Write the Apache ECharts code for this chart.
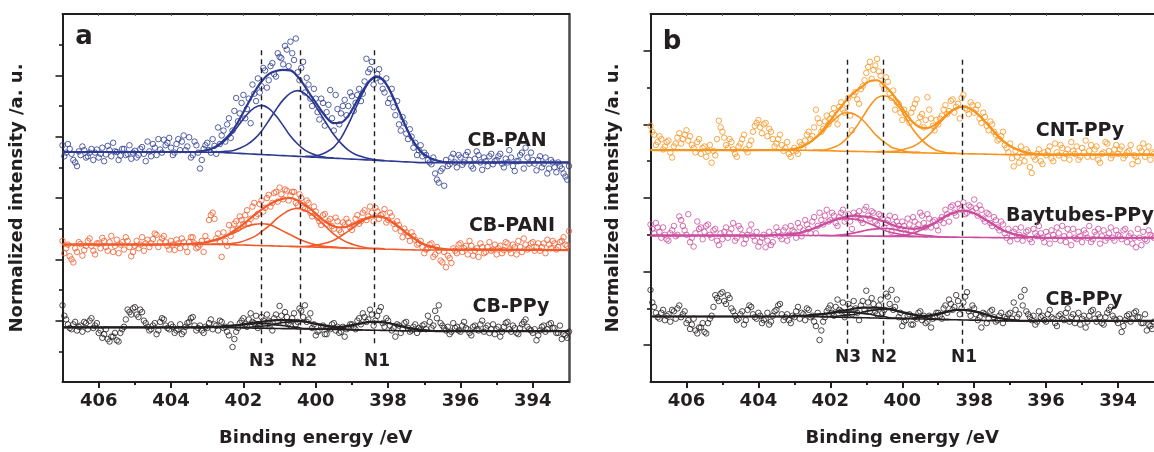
<!DOCTYPE html>
<html><head><meta charset="utf-8">
<script src="https://cdn.jsdelivr.net/npm/echarts@6.0.0/dist/echarts.min.js"></script>
<style>html,body{margin:0;padding:0;background:#fff}#c{width:1154px;height:452px}</style>
</head><body><div id="c"></div>
<script>
// ---------- axis ticks ----------
const X_MAJOR = [394, 396, 398, 400, 402, 404, 406];
const X_MINOR = [395, 397, 399, 401, 403, 405];
const YA_MAJOR = [1, 2, 3, 4, 5];
const YA_MINOR = [0.5, 1.5, 2.5, 3.5, 4.5, 5.5];
const YB_MAJOR = [0.5, 1.5, 2.5, 3.5, 4.5];
const YB_MINOR = [1, 2, 3, 4];

// ---------- peak positions (dashed lines) ----------
const PEAK_NAMES = ['N3', 'N2', 'N1'];
const DASH_A = [401.5, 400.42, 398.39];
const DASH_B = [401.54, 400.52, 398.33];

// ---------- measured points (binding energy, eV) ----------
const SCATTER_X = [
407.0,406.9,406.8,406.7,406.6,406.5,406.4,406.3,406.2,406.1,
406.0,405.9,405.8,405.7,405.6,405.5,405.4,405.3,405.2,405.1,
405.0,404.9,404.8,404.7,404.6,404.5,404.4,404.3,404.2,404.1,
404.0,403.9,403.8,403.7,403.6,403.5,403.4,403.3,403.2,403.1,
403.0,402.9,402.8,402.7,402.6,402.5,402.4,402.3,402.2,402.1,
402.0,401.9,401.8,401.7,401.6,401.5,401.4,401.3,401.2,401.1,
401.0,400.9,400.8,400.7,400.6,400.5,400.4,400.3,400.2,400.1,
400.0,399.9,399.8,399.7,399.6,399.5,399.4,399.3,399.2,399.1,
399.0,398.9,398.8,398.7,398.6,398.5,398.4,398.3,398.2,398.1,
398.0,397.9,397.8,397.7,397.6,397.5,397.4,397.3,397.2,397.1,
397.0,396.9,396.8,396.7,396.6,396.5,396.4,396.3,396.2,396.1,
396.0,395.9,395.8,395.7,395.6,395.5,395.4,395.3,395.2,395.1,
395.0,394.9,394.8,394.7,394.6,394.5,394.4,394.3,394.2,394.1,
394.0,393.9,393.8,393.7,393.6,393.5,393.4,393.3,393.2,393.1,
393.0];
const SCATTER_X2 = [
406.95,406.85,406.75,406.65,406.55,406.45,406.35,406.25,406.15,406.05,
405.95,405.85,405.75,405.65,405.55,405.45,405.35,405.25,405.15,405.05,
404.95,404.85,404.75,404.65,404.55,404.45,404.35,404.25,404.15,404.05,
403.95,403.85,403.75,403.65,403.55,403.45,403.35,403.25,403.15,403.05,
402.95,402.85,402.75,402.65,402.55,402.45,402.35,402.25,402.15,402.05,
401.95,401.85,401.75,401.65,401.55,401.45,401.35,401.25,401.15,401.05,
400.95,400.85,400.75,400.65,400.55,400.45,400.35,400.25,400.15,400.05,
399.95,399.85,399.75,399.65,399.55,399.45,399.35,399.25,399.15,399.05,
398.95,398.85,398.75,398.65,398.55,398.45,398.35,398.25,398.15,398.05,
397.95,397.85,397.75,397.65,397.55,397.45,397.35,397.25,397.15,397.05,
396.95,396.85,396.75,396.65,396.55,396.45,396.35,396.25,396.15,396.05,
395.95,395.85,395.75,395.65,395.55,395.45,395.35,395.25,395.15,395.05,
394.95,394.85,394.75,394.65,394.55,394.45,394.35,394.25,394.15,394.05,
393.95,393.85,393.75,393.65,393.55,393.45,393.35,393.25,393.15,393.05];

const PAN_PTS = [
3.86,3.74,3.80,3.62,3.52,3.70,3.78,3.68,3.80,3.74,
3.66,3.82,3.71,3.78,3.90,3.75,3.69,3.80,3.72,3.64,
3.77,3.70,3.83,3.60,3.76,3.88,3.70,3.79,3.95,3.90,
3.82,3.74,3.96,3.92,3.78,3.99,3.70,3.86,3.48,3.80,
3.90,3.74,3.85,4.15,4.02,3.92,4.30,4.10,4.63,4.38,
4.68,4.45,4.22,4.70,4.95,4.82,5.08,4.92,5.20,4.98,
5.30,5.18,5.42,5.55,5.25,5.05,5.12,4.72,4.85,4.50,
4.62,4.28,4.55,4.40,4.76,4.10,4.45,4.38,4.60,4.50,
4.66,4.55,4.78,4.70,5.27,5.10,4.85,5.02,4.90,4.72,
4.55,4.78,4.35,4.20,4.32,4.05,4.12,3.82,3.70,3.86,
3.74,3.62,3.55,3.40,3.25,3.48,3.62,3.55,3.72,3.50,
3.66,3.58,3.75,3.52,3.64,3.70,3.46,3.60,3.68,3.55,
3.62,3.72,3.50,3.58,3.66,3.44,3.60,3.74,3.82,3.56,
3.62,3.45,3.68,3.56,3.40,3.62,3.50,3.58,3.48,3.35,
3.52];
const PAN_PTS2 = [
3.68,3.88,3.72,3.58,3.76,3.84,3.66,3.74,3.62,3.79,
3.72,3.60,3.85,3.68,3.76,3.62,3.80,3.70,3.86,3.74,
3.66,3.80,3.72,3.92,3.68,3.82,3.96,3.74,3.86,3.98,
3.70,3.88,3.78,4.02,3.84,3.66,3.92,3.74,3.62,3.86,
3.78,3.96,3.72,3.88,4.10,4.20,3.98,4.42,4.25,4.55,
4.30,4.62,4.85,4.58,4.72,5.12,4.80,5.15,5.02,5.36,
5.28,5.48,5.15,5.36,5.60,4.92,5.22,4.96,4.62,4.78,
4.40,4.62,4.18,4.52,4.30,4.68,4.20,4.50,4.35,4.72,
4.42,4.68,4.58,4.90,5.05,5.22,4.95,5.10,4.78,4.95,
4.62,4.48,4.58,4.10,4.22,3.96,4.00,3.90,3.78,3.68,
3.70,3.58,3.66,3.30,3.44,3.20,3.52,3.66,3.58,3.70,
3.54,3.70,3.62,3.48,3.76,3.58,3.66,3.52,3.72,3.60,
3.68,3.56,3.64,3.78,3.52,3.60,3.70,3.48,3.66,3.74,
3.56,3.62,3.50,3.66,3.48,3.58,3.42,3.52,3.40,3.30];

const PANI_PTS = [
2.30,2.18,2.05,1.95,2.12,2.25,2.15,2.30,2.22,2.08,
2.26,2.35,2.20,2.28,2.12,2.32,2.24,2.16,2.30,2.05,
2.22,2.18,2.36,2.26,2.20,2.33,2.40,2.28,2.38,2.22,
2.30,2.15,2.26,2.34,2.20,2.28,2.36,2.18,2.24,2.12,
2.30,2.72,2.66,2.42,2.04,2.30,2.56,2.48,2.62,2.70,
2.58,2.80,2.66,2.92,2.74,2.96,2.84,3.05,2.92,3.10,
3.17,2.98,3.12,3.04,3.10,2.88,3.00,2.82,2.92,2.70,
2.78,2.62,2.72,2.58,2.66,2.50,2.62,2.44,2.56,2.60,
2.48,2.66,2.58,2.76,2.64,2.86,2.62,2.78,2.72,2.82,
2.64,2.70,2.50,2.56,2.36,2.44,2.30,2.38,2.24,2.30,
2.10,2.18,2.26,2.08,2.14,1.95,1.87,2.02,2.18,2.10,
2.26,2.18,2.08,2.22,2.14,2.04,2.20,2.12,2.28,2.16,
2.08,2.22,2.15,2.26,2.10,2.20,2.30,2.12,2.24,2.18,
2.28,2.20,2.14,2.26,2.32,2.18,2.26,2.20,2.30,2.24,
2.46];
const PANI_PTS2 = [
2.10,2.24,2.00,2.18,2.28,2.06,2.22,2.34,2.14,2.26,
2.18,2.30,2.14,2.38,2.22,2.10,2.28,2.36,2.20,2.12,
2.30,2.24,2.14,2.32,2.26,2.42,2.20,2.34,2.28,2.16,
2.24,2.32,2.18,2.28,2.12,2.36,2.26,2.20,2.30,2.38,
2.64,2.76,2.34,2.28,2.44,2.22,2.38,2.58,2.50,2.64,
2.72,2.58,2.86,2.70,2.90,2.78,3.00,2.86,3.08,2.94,
3.06,3.14,2.96,3.10,2.92,3.06,2.84,2.96,2.76,2.86,
2.68,2.56,2.74,2.62,2.54,2.68,2.48,2.60,2.66,2.52,
2.56,2.72,2.62,2.80,2.70,2.76,2.84,2.66,2.74,2.60,
2.76,2.58,2.62,2.46,2.50,2.38,2.44,2.32,2.26,2.20,
2.16,2.24,2.04,2.20,1.98,2.12,2.06,1.94,2.14,2.24,
2.12,2.22,2.30,2.06,2.18,2.26,2.10,2.20,2.14,2.24,
2.18,2.10,2.28,2.16,2.24,2.08,2.20,2.34,2.16,2.26,
2.14,2.26,2.20,2.10,2.24,2.30,2.16,2.28,2.36,2.22];

const PPY_PTS = [
1.25,1.02,0.88,0.94,0.84,0.92,0.98,0.86,1.04,0.92,
0.80,0.72,0.86,0.66,0.74,0.68,0.80,0.90,1.18,1.10,
1.22,1.06,1.14,0.96,0.84,0.92,0.78,0.98,1.02,0.88,
0.94,0.80,0.86,0.78,0.90,0.98,1.06,0.84,0.92,0.80,
0.88,1.02,0.94,0.84,0.98,0.90,0.76,0.57,0.82,0.96,
1.04,0.90,1.12,0.96,0.88,1.06,0.92,1.00,0.84,1.10,
1.24,0.96,1.06,0.92,1.12,0.98,1.16,1.25,1.02,0.88,
0.76,0.84,0.92,0.78,0.86,0.96,0.90,0.82,0.74,0.88,
0.94,0.86,1.04,1.12,0.98,1.18,0.92,1.08,1.22,0.90,
1.00,0.84,0.74,0.92,0.86,0.98,0.82,0.90,0.80,0.86,
0.94,1.08,0.88,1.16,1.25,0.92,0.84,0.78,0.96,0.90,
0.82,0.98,0.86,0.76,0.92,0.84,1.00,0.88,0.80,0.94,
0.86,0.74,0.90,0.98,0.82,0.88,0.78,0.94,1.02,0.86,
0.80,0.68,0.84,0.92,0.86,0.96,0.88,0.80,0.70,0.76,
0.82];
const PPY_PTS2 = [
1.08,0.94,0.86,0.98,0.90,0.82,0.96,1.00,0.88,0.96,
0.84,0.78,0.70,0.74,0.80,0.66,0.86,1.02,1.14,1.20,
1.10,1.18,1.00,0.90,0.86,0.96,0.84,1.04,0.92,0.86,
0.90,0.84,0.94,0.82,0.96,1.04,0.92,0.88,0.84,0.90,
0.96,0.86,0.92,1.00,0.88,0.82,0.94,0.70,0.88,1.00,
0.94,1.02,0.98,1.08,0.92,1.00,1.10,0.94,1.04,0.98,
1.08,1.14,0.96,1.04,0.94,1.20,1.06,0.98,1.12,0.94,
0.82,0.90,0.78,0.88,0.94,0.84,0.80,0.90,0.86,0.94,
0.90,1.00,0.94,1.06,1.02,1.10,1.00,1.16,0.96,1.04,
0.92,0.88,0.94,0.80,0.96,0.88,0.84,0.94,0.88,0.92,
0.86,0.98,0.92,1.04,0.96,0.88,0.90,0.82,0.88,0.84,
0.92,0.88,0.80,0.90,0.86,0.94,0.82,0.92,0.86,0.78,
0.90,0.82,0.96,0.86,0.92,0.80,0.88,0.98,0.90,0.84,
0.86,0.76,0.90,0.82,0.94,0.88,0.80,0.92,0.78,0.72];

const CNT_PTS = [
3.48,3.36,3.26,3.30,3.20,3.28,3.05,3.24,3.38,3.30,
3.42,3.34,3.18,3.26,3.10,3.20,3.14,2.98,3.08,3.55,
3.40,3.22,3.30,3.16,3.06,3.24,3.36,3.12,3.28,3.48,
3.56,3.38,3.52,3.44,3.30,3.24,3.36,3.14,3.26,3.06,
3.18,3.10,3.22,3.28,3.40,3.34,3.70,3.52,3.44,3.62,
3.58,3.72,3.50,3.80,3.66,3.86,3.42,3.94,3.78,4.02,
4.20,4.35,4.24,4.39,4.16,3.98,4.08,3.86,3.70,3.78,
3.56,3.64,3.52,3.72,3.84,3.60,3.46,3.87,3.58,3.42,
3.50,3.62,3.76,3.68,3.84,3.74,3.58,3.90,3.70,3.80,
3.66,3.76,3.52,3.60,3.42,3.50,3.36,3.30,3.40,3.18,
3.24,2.93,3.06,3.20,3.00,3.12,2.84,3.02,3.16,2.96,
3.08,3.20,3.00,3.12,3.22,3.04,3.16,3.26,3.10,3.02,
3.18,3.28,3.14,3.06,3.20,2.98,3.12,3.24,3.04,3.16,
3.10,3.20,3.08,3.14,2.96,3.06,3.18,3.24,3.12,3.02,
3.10];
const CNT_PTS2 = [
3.40,3.22,3.34,3.16,3.26,3.12,3.20,3.32,3.24,3.36,
3.28,3.22,3.12,3.30,3.18,3.06,3.22,3.14,3.30,3.46,
3.32,3.18,3.26,3.10,3.20,3.30,3.16,3.22,3.40,3.52,
3.46,3.50,3.34,3.40,3.20,3.30,3.22,3.18,3.10,3.14,
3.14,3.26,3.18,3.36,3.30,3.46,3.58,3.40,3.54,3.50,
3.64,3.58,3.74,3.70,3.78,3.62,3.90,3.84,3.98,4.10,
4.28,4.12,4.30,4.22,4.04,4.14,3.92,3.96,3.80,3.66,
3.70,3.58,3.66,3.78,3.52,3.64,3.56,3.70,3.48,3.56,
3.58,3.70,3.64,3.82,3.66,3.78,3.86,3.72,3.64,3.76,
3.70,3.58,3.66,3.48,3.54,3.40,3.28,3.34,3.22,3.12,
3.04,3.14,2.98,3.08,3.16,2.92,3.06,3.10,3.00,3.12,
3.14,3.04,3.24,3.08,3.18,3.10,3.02,3.14,3.20,3.06,
3.12,3.06,3.22,3.16,3.02,3.10,3.26,3.14,3.08,3.22,
3.16,3.04,3.12,3.22,3.08,3.00,3.14,3.06,3.20,3.12];

const BAY_PTS = [
2.14,2.02,2.10,1.96,2.00,1.92,2.06,1.98,2.25,2.12,
2.00,1.90,1.84,2.18,2.10,2.04,2.14,1.96,2.08,1.86,
1.94,2.10,2.02,2.16,1.96,2.08,1.88,2.00,2.14,1.92,
1.84,1.96,1.83,2.04,1.90,2.10,1.98,2.06,1.92,2.12,
2.04,2.16,1.98,2.20,2.08,2.18,2.02,2.30,2.14,2.34,
2.20,2.26,2.12,2.30,2.18,2.28,2.08,2.24,2.32,2.16,
2.38,2.22,2.30,2.14,2.26,2.10,2.20,2.04,2.24,2.12,
2.18,2.02,2.14,2.24,2.08,2.30,2.16,2.28,2.10,2.20,
2.06,2.24,2.34,2.18,2.40,2.26,2.36,2.44,2.30,2.38,
2.48,2.26,2.34,2.18,2.28,2.12,2.20,2.06,2.14,1.96,
1.91,2.04,1.94,2.10,1.98,2.06,1.90,2.02,2.12,1.96,
2.04,1.88,2.00,2.10,1.92,1.98,2.08,1.86,1.96,2.04,
1.90,2.02,2.12,1.94,2.00,1.88,2.06,1.96,2.10,1.92,
2.00,1.94,2.08,1.98,1.88,1.83,1.96,2.04,1.92,2.00,
1.96];
const BAY_PTS2 = [
2.08,2.16,2.04,2.10,1.94,2.02,2.12,2.00,2.20,2.06,
2.28,1.96,2.02,2.08,1.94,2.12,2.00,2.06,1.92,2.02,
2.04,1.96,2.08,1.92,2.12,2.00,1.94,2.06,1.98,2.04,
1.90,2.00,1.92,1.86,2.00,2.04,1.94,2.10,2.00,2.06,
1.96,2.10,2.06,2.14,2.02,2.24,2.12,2.20,2.26,2.18,
2.30,2.16,2.24,2.34,2.22,2.18,2.30,2.26,2.20,2.34,
2.26,2.32,2.18,2.28,2.22,2.16,2.26,2.14,2.18,2.08,
2.12,2.22,2.06,2.18,2.14,2.26,2.10,2.22,2.18,2.12,
2.20,2.16,2.28,2.38,2.30,2.42,2.34,2.28,2.40,2.32,
2.36,2.40,2.22,2.30,2.16,2.24,2.10,2.18,2.02,2.08,
1.98,2.08,2.00,1.92,2.04,1.94,2.08,1.98,2.02,1.90,
1.98,2.06,1.94,2.02,2.12,1.90,2.00,2.08,1.94,1.98,
2.06,1.96,1.90,2.04,2.08,1.98,1.92,2.02,1.96,2.06,
1.98,2.06,1.90,2.02,1.96,2.08,1.86,1.94,2.06,1.98];

// ---------- fitted curves (sampled) ----------
const FIT_X = [407,403.9,403.7,403.5,403.3,403.1,402.9,402.7,402.5,402.3,402.1,401.9,401.7,401.5,401.3,401.1,400.9,400.7,400.5,400.3,400.1,399.9,399.7,399.5,399.3,399.1,398.9,398.7,398.5,398.3,398.1,397.9,397.7,397.5,397.3,397.1,396.9,396.7,396.5,396.3,396.1,393];
const _ = null;

const PAN_BASE = [3.745,3.745,3.745,3.745,3.745,3.745,3.745,3.745,3.739,3.733,3.727,3.721,3.715,3.709,3.703,3.697,3.691,3.685,3.679,3.673,3.667,3.661,3.655,3.649,3.643,3.637,3.631,3.625,3.619,3.613,3.607,3.601,3.595,3.589,3.583,3.577,3.577,3.577,3.577,3.577,3.577,3.577];
const PAN_N3 = [_,_,_,3.75,3.75,3.77,3.80,3.85,3.94,4.06,4.21,4.36,4.47,4.51,4.46,4.34,4.18,4.01,3.88,3.78,3.72,3.68,3.66,3.65,_,_,_,_,_,_,_,_,_,_,_,_,_,_,_,_,_,_];
const PAN_N2 = [_,_,_,_,_,_,3.75,3.75,3.76,3.77,3.81,3.87,3.96,4.09,4.26,4.44,4.60,4.71,4.75,4.70,4.58,4.40,4.21,4.03,3.89,3.78,3.71,3.67,3.64,3.62,3.61,_,_,_,_,_,_,_,_,_,_,_];
const PAN_N1 = [_,_,_,_,_,_,_,_,_,_,_,_,_,_,_,_,_,_,_,3.68,3.68,3.70,3.75,3.83,3.98,4.20,4.46,4.71,4.91,4.97,4.89,4.69,4.42,4.15,3.92,3.76,3.67,3.62,3.59,3.58,_,_];
const PAN_ENV = [3.75,3.75,3.75,3.75,3.75,3.77,3.80,3.86,3.96,4.10,4.29,4.51,4.72,4.90,5.02,5.07,5.09,5.08,4.98,4.82,4.64,4.47,4.31,4.22,4.23,4.34,4.54,4.75,4.92,4.98,4.90,4.69,4.42,4.15,3.92,3.76,3.67,3.62,3.59,3.58,3.58,3.58];

const PANI_BASE = [2.244,2.244,2.244,2.244,2.244,2.244,2.244,2.244,2.241,2.237,2.234,2.231,2.227,2.224,2.221,2.217,2.214,2.211,2.207,2.204,2.201,2.197,2.194,2.191,2.187,2.184,2.181,2.177,2.174,2.171,2.167,2.164,2.161,2.157,2.154,2.151,2.151,2.151,2.151,2.151,2.151,2.151];
const PANI_N3 = [_,2.24,2.25,2.25,2.26,2.27,2.29,2.33,2.37,2.42,2.48,2.54,2.57,2.58,2.57,2.52,2.46,2.40,2.34,2.29,2.25,2.22,2.21,2.20,2.19,2.18,_,_,_,_,_,_,_,_,_,_,_,_,_,_,_,_];
const PANI_N2 = [_,_,_,_,_,_,2.25,2.25,2.25,2.26,2.28,2.32,2.37,2.45,2.54,2.65,2.74,2.81,2.83,2.80,2.73,2.63,2.52,2.41,2.33,2.27,2.23,2.20,2.18,2.18,2.17,_,_,_,_,_,_,_,_,_,_,_];
const PANI_N1 = [_,_,_,_,_,_,_,_,_,_,_,_,_,_,_,_,_,2.21,2.21,2.21,2.22,2.24,2.27,2.31,2.38,2.46,2.55,2.63,2.68,2.70,2.68,2.61,2.53,2.43,2.35,2.27,2.22,2.19,2.17,2.16,2.16,2.15];
const PANI_ENV = [2.24,2.24,2.25,2.25,2.26,2.27,2.30,2.33,2.38,2.45,2.53,2.62,2.72,2.81,2.89,2.95,2.99,3.00,2.96,2.89,2.80,2.69,2.60,2.54,2.52,2.54,2.59,2.65,2.69,2.70,2.68,2.61,2.53,2.43,2.35,2.27,2.22,2.19,2.17,2.16,2.16,2.15];

const PPY_BASE = [0.89,0.89,0.89,0.89,0.89,0.89,0.89,0.89,0.888,0.886,0.884,0.881,0.879,0.877,0.875,0.873,0.871,0.869,0.866,0.864,0.862,0.860,0.858,0.856,0.854,0.851,0.849,0.847,0.845,0.843,0.841,0.839,0.836,0.834,0.832,0.830,0.83,0.83,0.83,0.83,0.83,0.83];
const PPY_N3 = [_,_,_,_,_,0.89,0.90,0.90,0.91,0.92,0.93,0.94,0.95,0.95,0.95,0.93,0.92,0.90,0.89,0.87,0.87,0.86,_,_,_,_,_,_,_,_,_,_,_,_,_,_,_,_,_,_,_,_];
const PPY_N2 = [_,_,_,_,_,_,_,_,_,0.89,0.89,0.89,0.90,0.91,0.92,0.95,0.97,0.98,0.99,0.98,0.96,0.93,0.91,0.89,0.87,0.86,0.85,0.85,_,_,_,_,_,_,_,_,_,_,_,_,_,_];
const PPY_N1 = [_,_,_,_,_,_,_,_,_,_,_,_,_,_,_,_,_,_,_,_,0.86,0.86,0.87,0.88,0.89,0.91,0.93,0.96,0.98,0.98,0.97,0.95,0.92,0.89,0.87,0.85,0.84,0.83,0.83,_,_,_];
const PPY_ENV = [0.89,0.89,0.89,0.89,0.89,0.89,0.90,0.90,0.91,0.92,0.93,0.95,0.97,0.98,1.00,1.01,1.01,1.01,1.00,0.99,0.96,0.94,0.92,0.90,0.90,0.92,0.94,0.96,0.98,0.98,0.97,0.95,0.92,0.89,0.87,0.85,0.84,0.83,0.83,0.83,0.83,0.83];

const CNT_BASE = [3.148,3.148,3.148,3.148,3.148,3.148,3.148,3.148,3.146,3.144,3.142,3.140,3.137,3.135,3.133,3.131,3.129,3.127,3.125,3.123,3.121,3.119,3.117,3.115,3.112,3.110,3.108,3.106,3.104,3.102,3.100,3.098,3.096,3.094,3.091,3.089,3.089,3.089,3.089,3.089,3.089,3.089];
const CNT_N3 = [_,_,_,3.15,3.15,3.16,3.18,3.22,3.28,3.36,3.46,3.56,3.64,3.66,3.63,3.56,3.45,3.34,3.26,3.19,3.16,3.13,3.12,3.12,_,_,_,_,_,_,_,_,_,_,_,_,_,_,_,_,_,_];
const CNT_N2 = [_,_,_,_,_,_,_,_,3.15,3.15,3.16,3.19,3.24,3.33,3.45,3.60,3.75,3.86,3.89,3.85,3.74,3.59,3.43,3.31,3.22,3.16,3.13,3.11,3.11,_,_,_,_,_,_,_,_,_,_,_,_,_];
const CNT_N1 = [_,_,_,_,_,_,_,_,_,_,_,_,_,_,_,_,_,3.13,3.13,3.13,3.14,3.17,3.20,3.26,3.34,3.44,3.55,3.65,3.72,3.74,3.71,3.64,3.54,3.43,3.32,3.24,3.18,3.14,3.11,3.10,3.09,3.09];
const CNT_ENV = [3.15,3.15,3.15,3.15,3.15,3.16,3.18,3.22,3.28,3.37,3.49,3.62,3.74,3.86,3.95,4.02,4.09,4.10,4.03,3.93,3.80,3.65,3.53,3.46,3.45,3.49,3.57,3.66,3.72,3.74,3.71,3.64,3.54,3.43,3.32,3.24,3.18,3.14,3.11,3.10,3.09,3.09];

const BAY_BASE = [1.992,1.992,1.992,1.992,1.992,1.992,1.992,1.992,1.991,1.990,1.989,1.987,1.986,1.985,1.984,1.983,1.982,1.981,1.979,1.978,1.977,1.976,1.975,1.974,1.973,1.971,1.970,1.969,1.968,1.967,1.966,1.965,1.963,1.962,1.961,1.960,1.96,1.96,1.96,1.96,1.96,1.96];
const BAY_N3 = [_,_,1.99,2.00,2.00,2.01,2.02,2.05,2.08,2.12,2.16,2.19,2.22,2.22,2.21,2.19,2.15,2.11,2.06,2.03,2.01,1.99,1.98,1.98,1.97,_,_,_,_,_,_,_,_,_,_,_,_,_,_,_,_,_];
const BAY_N2 = [_,_,_,_,_,_,_,_,_,1.99,1.99,1.99,2.00,2.01,2.03,2.05,2.07,2.08,2.09,2.08,2.06,2.04,2.02,2.00,1.99,1.98,1.97,1.97,_,_,_,_,_,_,_,_,_,_,_,_,_,_];
const BAY_N1 = [_,_,_,_,_,_,_,_,_,_,_,_,_,_,_,_,_,1.98,1.98,1.98,1.99,2.00,2.02,2.06,2.10,2.16,2.22,2.27,2.31,2.33,2.31,2.27,2.21,2.15,2.09,2.04,2.01,1.99,1.97,1.97,1.96,1.96];
const BAY_ENV = [1.99,1.99,1.99,2.00,2.00,2.01,2.02,2.05,2.08,2.12,2.16,2.20,2.23,2.25,2.26,2.25,2.24,2.21,2.18,2.14,2.11,2.09,2.08,2.09,2.12,2.16,2.22,2.28,2.31,2.33,2.31,2.27,2.21,2.15,2.09,2.04,2.01,1.99,1.97,1.97,1.96,1.96];

// ---------- styling ----------
const INK = '#231F20';
const FONT = "'DejaVu Sans', sans-serif";
const C_PAN = '#2B3990', C_PANI = '#F15A29', C_PPY = '#231F20', C_CNT = '#F7941D', C_BAY = '#CC4C9E';

const SPECTRA_A = [
  {pts: PAN_PTS, pts2: PAN_PTS2, base: PAN_BASE, n3: PAN_N3, n2: PAN_N2, n1: PAN_N1, env: PAN_ENV, color: C_PAN},
  {pts: PANI_PTS, pts2: PANI_PTS2, base: PANI_BASE, n3: PANI_N3, n2: PANI_N2, n1: PANI_N1, env: PANI_ENV, color: C_PANI},
  {pts: PPY_PTS, pts2: PPY_PTS2, base: PPY_BASE, n3: PPY_N3, n2: PPY_N2, n1: PPY_N1, env: PPY_ENV, color: C_PPY}
];
const SPECTRA_B = [
  {pts: CNT_PTS, pts2: CNT_PTS2, base: CNT_BASE, n3: CNT_N3, n2: CNT_N2, n1: CNT_N1, env: CNT_ENV, color: C_CNT},
  {pts: BAY_PTS, pts2: BAY_PTS2, base: BAY_BASE, n3: BAY_N3, n2: BAY_N2, n1: BAY_N1, env: BAY_ENV, color: C_BAY},
  {pts: PPY_PTS, pts2: PPY_PTS2, base: PPY_BASE, n3: PPY_N3, n2: PPY_N2, n1: PPY_N1, env: PPY_ENV, color: C_PPY}
];

const pair = (xs, ys) => xs.map((x, i) => [x, ys[i]]);

function spectrumSeries(s, xi, yi) {
  const out = [];
  out.push({type: 'scatter', xAxisIndex: xi, yAxisIndex: yi, z: 2, symbol: 'circle', symbolSize: 5.5,
    itemStyle: {color: 'rgba(255,255,255,0)', borderColor: s.color, borderWidth: 1},
    data: pair(SCATTER_X, s.pts).concat(pair(SCATTER_X2, s.pts2)), silent: true});
  const lines = [[s.base, 1.6], [s.n3, 1.6], [s.n2, 1.6], [s.n1, 1.6], [s.env, 2.2]];
  lines.forEach(([ys, w]) => {
    out.push({type: 'line', xAxisIndex: xi, yAxisIndex: yi, z: 3, symbol: 'none', showSymbol: false,
      smooth: 0.35, connectNulls: false, lineStyle: {color: s.color, width: w},
      data: pair(FIT_X, ys), silent: true});
  });
  return out;
}

function dashSeries(xs, top, bottom, xi, yi) {
  return {type: 'line', xAxisIndex: xi, yAxisIndex: yi, data: [], z: 4, silent: true,
    markLine: {symbol: ['none', 'none'], silent: true, animation: false, label: {show: false},
      lineStyle: {color: INK, width: 1.4, type: [5, 4]},
      data: xs.map(x => [{coord: [x, top]}, {coord: [x, bottom]}])}};
}

function xAxes(g) {
  const common = {gridIndex: g, type: 'value', min: 393, max: 407, inverse: true, splitLine: {show: false}};
  return [
    Object.assign({}, common, {position: 'bottom',
      axisLine: {show: true, onZero: false, lineStyle: {color: INK, width: 2}},
      axisTick: {show: true, inside: false, length: 6, lineStyle: {color: INK, width: 2}, customValues: X_MAJOR},
      axisLabel: {show: true, customValues: X_MAJOR, margin: 10, color: INK, fontFamily: FONT, fontWeight: 'bold', fontSize: 18},
      name: 'Binding energy /eV', nameLocation: 'middle', nameGap: 47,
      nameTextStyle: {color: INK, fontFamily: FONT, fontWeight: 'bold', fontSize: 18}}),
    Object.assign({}, common, {position: 'bottom',
      axisLine: {show: false},
      axisTick: {show: true, inside: false, length: 3, lineStyle: {color: INK, width: 2}, customValues: X_MINOR},
      axisLabel: {show: false}}),
    Object.assign({}, common, {position: 'top',
      axisLine: {show: true, onZero: false, lineStyle: {color: INK, width: 2}},
      axisTick: {show: true, inside: true, length: 2, lineStyle: {color: '#666', width: 1}, customValues: X_MAJOR.concat(X_MINOR)},
      axisLabel: {show: false}})
  ];
}

function yAxes(g, max, major, minor, nameGap) {
  return [
    {gridIndex: g, type: 'value', position: 'left', min: 0, max: max, splitLine: {show: false},
      axisLine: {show: true, onZero: false, lineStyle: {color: INK, width: 2}},
      axisTick: {show: true, inside: false, length: 7, lineStyle: {color: INK, width: 1.6}, customValues: major},
      axisLabel: {show: false},
      name: 'Normalized intensity /a. u.', nameLocation: 'middle', nameGap: nameGap,
      nameTextStyle: {color: INK, fontFamily: FONT, fontWeight: 'bold', fontSize: 18}},
    {gridIndex: g, type: 'value', position: 'left', min: 0, max: max, splitLine: {show: false},
      axisLine: {show: false},
      axisTick: {show: true, inside: false, length: 3.5, lineStyle: {color: INK, width: 1.6}, customValues: minor},
      axisLabel: {show: false}}
  ];
}

const txt = (text, x, y, size) => ({type: 'text', x: x, y: y, silent: true,
  style: {text: text, fill: INK, font: 'bold ' + size + 'px ' + FONT, align: 'center', verticalAlign: 'middle'}});

const yA = yAxes(0, 6, YA_MAJOR, YA_MINOR, 36);
yA.push({gridIndex: 0, type: 'value', position: 'right', min: 0, max: 6, splitLine: {show: false},
  axisLine: {show: true, onZero: false, lineStyle: {color: '#4a4a4a', width: 2.5}}, axisTick: {show: false}, axisLabel: {show: false}});
const yB = yAxes(1, 5, YB_MAJOR, YB_MINOR, 28);

let series = [];
SPECTRA_A.forEach(s => { series = series.concat(spectrumSeries(s, 0, 0)); });
SPECTRA_B.forEach(s => { series = series.concat(spectrumSeries(s, 3, 3)); });
series.push(dashSeries(DASH_A, 5.41, 0.57, 0, 0));
series.push(dashSeries(DASH_B, 4.38, 0.49, 3, 3));

const option = {
  animation: false,
  backgroundColor: '#ffffff',
  grid: [
    {left: 62.5, top: 14, width: 506.5, height: 369},
    {left: 650.5, top: 14, width: 506.5, height: 369}
  ],
  xAxis: xAxes(0).concat(xAxes(1)),
  yAxis: yA.concat(yB),
  series: series,
  graphic: [
    txt('a', 84, 37, 26), txt('b', 672, 42, 26),
    txt('CB-PAN', 507, 141.5, 19), txt('CB-PANI', 512, 226.5, 19), txt('CB-PPy', 511, 307.5, 19),
    txt('CNT-PPy', 1080, 131, 19), txt('Baytubes-PPy', 1080, 216.5, 19), txt('CB-PPy', 1084, 300.5, 19),
    txt(PEAK_NAMES[0], 262, 362, 17), txt(PEAK_NAMES[1], 304, 362, 17), txt(PEAK_NAMES[2], 377, 362, 17),
    txt(PEAK_NAMES[0], 848, 358, 17), txt(PEAK_NAMES[1], 884, 358, 17), txt(PEAK_NAMES[2], 964, 358, 17)
  ]
};

const chart = echarts.init(document.getElementById('c'), null, {renderer: 'canvas'});
chart.setOption(option);
</script></body></html>
